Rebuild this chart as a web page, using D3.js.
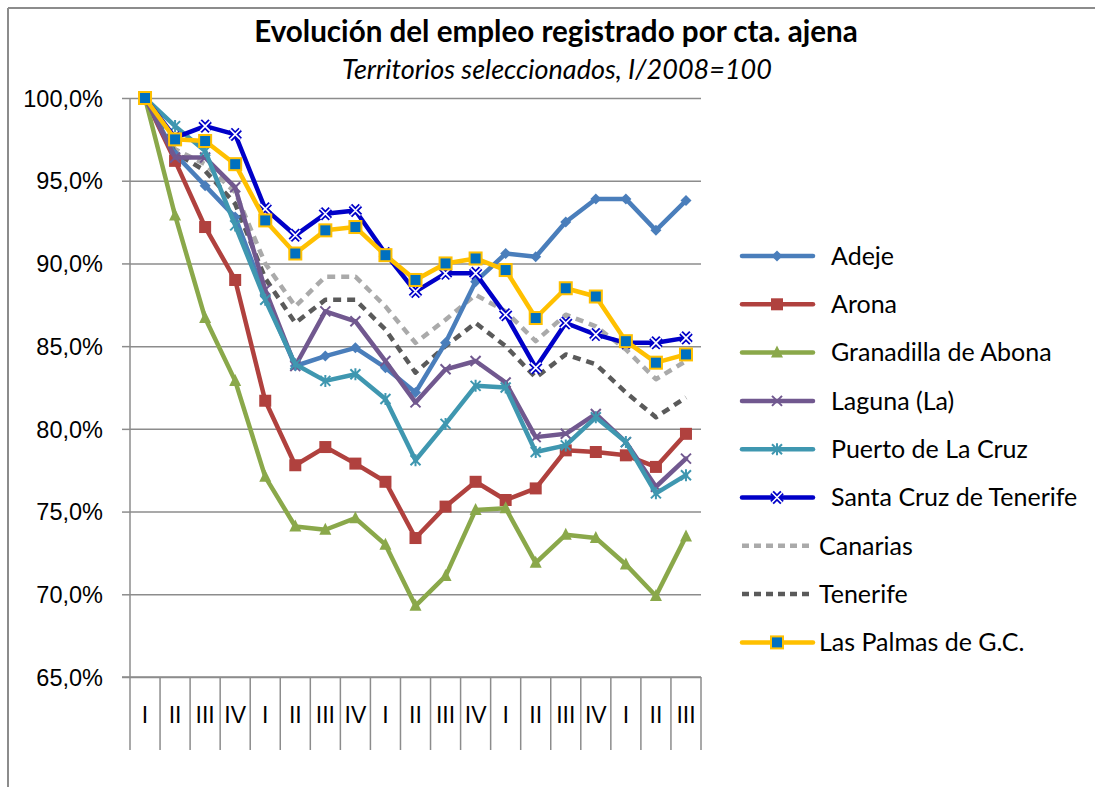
<!DOCTYPE html>
<meta charset="utf-8">
<style>
body { margin: 0; background: #fff; }
svg { display: block; font-family: Lato, "Open Sans", sans-serif; }
.grid line { stroke: #8c8c8c; stroke-width: 1.5; }
.grid path { display: none; }
.yaxis path, .yaxis line { stroke: #8c8c8c; stroke-width: 1.5; }
.yaxis text { font-size: 23.5px; fill: #000; }
.xaxis text { font-size: 23px; fill: #000; }
</style>
<body>
<div id="chart-container"></div>
<script src="https://cdnjs.cloudflare.com/ajax/libs/d3/7.8.5/d3.min.js"></script>
<script>
// quarters 2008 I .. 2012 III
var quarters = ["I","II","III","IV","I","II","III","IV","I","II","III","IV","I","II","III","IV","I","II","III"];
var yTicks = [65, 70, 75, 80, 85, 90, 95, 100];

var adeje       = [100, 96.6, 94.7, 92.8, 88.0, 83.8, 84.4, 84.9, 83.7, 82.2, 85.2, 88.9, 90.6, 90.4, 92.5, 93.9, 93.9, 92.0, 93.8];
var arona       = [100, 96.2, 92.2, 89.0, 81.7, 77.8, 78.9, 77.9, 76.8, 73.4, 75.3, 76.8, 75.7, 76.4, 78.7, 78.6, 78.4, 77.7, 79.7];
var granadilla  = [100, 92.9, 86.7, 82.9, 77.1, 74.1, 73.9, 74.6, 73.0, 69.3, 71.1, 75.1, 75.2, 71.9, 73.6, 73.4, 71.8, 69.9, 73.5];
var laguna      = [100, 96.4, 96.4, 94.6, 88.4, 83.8, 87.1, 86.5, 84.1, 81.6, 83.6, 84.1, 82.8, 79.5, 79.7, 80.9, 79.2, 76.5, 78.2];
var puerto      = [100, 98.3, 96.8, 92.3, 87.8, 83.9, 82.9, 83.3, 81.8, 78.1, 80.3, 82.6, 82.5, 78.6, 79.0, 80.7, 79.2, 76.1, 77.2];
var santaCruz   = [100, 97.6, 98.3, 97.8, 93.3, 91.7, 93.0, 93.2, 90.6, 88.3, 89.4, 89.4, 86.9, 83.7, 86.4, 85.7, 85.2, 85.2, 85.5];
var canarias    = [100, 96.9, 96.0, 94.3, 90.0, 87.4, 89.2, 89.2, 87.4, 85.2, 86.6, 88.1, 87.1, 85.3, 86.9, 86.2, 84.8, 83.0, 84.1];
var tenerife    = [100, 96.7, 95.6, 93.6, 89.1, 86.4, 87.8, 87.8, 86.0, 83.4, 85.0, 86.4, 85.0, 83.1, 84.5, 83.9, 82.2, 80.7, 81.9];
var lasPalmas   = [100, 97.5, 97.4, 96.0, 92.6, 90.6, 92.0, 92.2, 90.5, 89.0, 90.0, 90.3, 89.6, 86.7, 88.5, 88.0, 85.3, 84.0, 84.5];

var seriesNames = ["Adeje", "Arona", "Granadilla de Abona", "Laguna (La)", "Puerto de La Cruz",
                   "Santa Cruz de Tenerife", "Canarias", "Tenerife", "Las Palmas de G.C."];

var series = [
    {name: seriesNames[0], values: adeje,      color: "#4a7ebb", marker: "diamond"},
    {name: seriesNames[1], values: arona,      color: "#b0413e", marker: "square"},
    {name: seriesNames[2], values: granadilla, color: "#8aa84a", marker: "triangle"},
    {name: seriesNames[3], values: laguna,     color: "#71588f", marker: "x"},
    {name: seriesNames[4], values: puerto,     color: "#3f97b0", marker: "star"},
    {name: seriesNames[5], values: santaCruz,  color: "#0000c8", marker: "whitex"},
    {name: seriesNames[6], values: canarias,   color: "#aaaaaa", marker: null, dash: "8,6"},
    {name: seriesNames[7], values: tenerife,   color: "#5a5a5a", marker: null, dash: "8,6"},
    {name: seriesNames[8], values: lasPalmas,  color: "#ffc000", marker: "bluesquare"}
];

var width = 1095, height = 787;
var svg = d3.select("#chart-container").append("svg")
    .attr("width", width).attr("height", height);

// chart frame (top and left edges visible)
svg.append("line").attr("x1", 8).attr("x2", width).attr("y1", 8).attr("y2", 8)
    .attr("stroke", "#8c8c8c").attr("stroke-width", 2);
svg.append("line").attr("x1", 8).attr("x2", 8).attr("y1", 8).attr("y2", height)
    .attr("stroke", "#8c8c8c").attr("stroke-width", 2);

// titles
svg.append("text").attr("x", 556).attr("y", 42).attr("text-anchor", "middle")
    .style("font-size", "29.6px").style("font-weight", "bold")
    .text("Evolución del empleo registrado por cta. ajena");
svg.append("text").attr("x", 557).attr("y", 79).attr("text-anchor", "middle")
    .style("font-size", "27px").style("font-style", "italic")
    .text("Territorios seleccionados, I/2008=100");

var xScale = d3.scaleBand()
    .domain(d3.range(quarters.length))
    .range([130, 701]);

var yScale = d3.scaleLinear()
    .domain([65, 100])
    .range([677, 98]);

// gridlines
svg.append("g").attr("class", "grid")
    .attr("transform", "translate(130,0)")
    .call(d3.axisLeft(yScale).tickValues(yTicks).tickSize(-571).tickFormat(""));

// y axis
svg.append("g").attr("class", "yaxis")
    .attr("transform", "translate(130,0)")
    .call(d3.axisLeft(yScale).tickValues(yTicks).tickSize(8).tickPadding(19)
        .tickFormat(function(d) { return d.toFixed(1).replace(".", ",") + "%"; }))
    .call(function(g) { g.select(".domain").attr("d", "M0,98V677"); })
    .selectAll("text").attr("dy", "0.35em");

// x axis: labels plus separators between categories
var xAxisG = svg.append("g").attr("class", "xaxis")
    .attr("transform", "translate(0,677)")
    .call(d3.axisBottom(xScale).tickSize(0).tickPadding(30)
        .tickFormat(function(i) { return quarters[i]; }));
xAxisG.select(".domain").remove();
xAxisG.selectAll(".sep")
    .data(d3.range(quarters.length + 1))
    .enter().append("line")
    .attr("class", "sep")
    .attr("x1", function(i) { return 130 + i * xScale.bandwidth(); })
    .attr("x2", function(i) { return 130 + i * xScale.bandwidth(); })
    .attr("y1", 0).attr("y2", 73)
    .attr("stroke", "#8c8c8c").attr("stroke-width", 1.5);
svg.append("line").attr("x1", 122).attr("x2", 701).attr("y1", 677).attr("y2", 677)
    .attr("stroke", "#8c8c8c").attr("stroke-width", 1.5);

var cx = function(i) { return xScale(i) + xScale.bandwidth() / 2; };
var line = d3.line()
    .x(function(d, i) { return cx(i); })
    .y(function(d) { return yScale(d); });

function drawMarker(g, type, color) {
    if (type === "diamond") {
        g.append("path").attr("d", "M0,-5.5L5.5,0L0,5.5L-5.5,0Z").attr("fill", color);
    } else if (type === "square") {
        g.append("rect").attr("x", -6).attr("y", -6).attr("width", 12).attr("height", 12).attr("fill", color);
    } else if (type === "triangle") {
        g.append("path").attr("d", "M0,-7L6,5L-6,5Z").attr("fill", color);
    } else if (type === "x") {
        g.append("path").attr("d", "M-5,-5L5,5M-5,5L5,-5").attr("stroke", color).attr("stroke-width", 2);
    } else if (type === "star") {
        g.append("path").attr("d", "M-5,-5L5,5M-5,5L5,-5M0,-6V6").attr("stroke", color).attr("stroke-width", 2);
    } else if (type === "whitex") {
        g.append("path").attr("d", "M-5,-5L5,5M-5,5L5,-5").attr("stroke", color).attr("stroke-width", 5);
        g.append("path").attr("d", "M-5,-5L5,5M-5,5L5,-5").attr("stroke", "#fff").attr("stroke-width", 1.6);
    } else if (type === "bluesquare") {
        g.append("rect").attr("x", -6).attr("y", -6).attr("width", 12).attr("height", 12)
            .attr("fill", "#0070c0").attr("stroke", color).attr("stroke-width", 2);
    }
}

// draw order: dashed totals underneath, Las Palmas on top
var drawOrder = [6, 7, 0, 1, 2, 3, 4, 5, 8];
drawOrder.forEach(function(k) {
    var s = series[k];
    var g = svg.append("g");
    g.append("path").datum(s.values)
        .attr("d", line)
        .attr("fill", "none")
        .attr("stroke", s.color)
        .attr("stroke-width", 4.5)
        .attr("stroke-linejoin", "round")
        .attr("stroke-linecap", s.dash ? "butt" : "round")
        .attr("stroke-dasharray", s.dash || null);
    if (s.marker) {
        g.selectAll(".m").data(s.values).enter().append("g")
            .attr("transform", function(d, i) { return "translate(" + cx(i) + "," + yScale(d) + ")"; })
            .each(function() { drawMarker(d3.select(this), s.marker, s.color); });
    }
});

// legend
var legend = svg.append("g");
series.forEach(function(s, k) {
    var y = 256 + k * 48.3;
    var g = legend.append("g").attr("transform", "translate(0," + y + ")");
    g.append("line").attr("x1", 742).attr("x2", 813).attr("y1", 0).attr("y2", 0)
        .attr("stroke", s.color).attr("stroke-width", 4.5)
        .attr("stroke-linecap", s.dash ? "butt" : "round")
        .attr("stroke-dasharray", s.dash ? "7,5" : null);
    if (s.marker) {
        var m = g.append("g").attr("transform", "translate(777,0)");
        drawMarker(m, s.marker, s.color);
    }
    g.append("text").attr("x", s.dash || s.marker === "bluesquare" ? 819 : 831).attr("y", 0)
        .attr("dy", "0.35em").style("font-size", "25px").text(s.name);
});
</script>
</body>
